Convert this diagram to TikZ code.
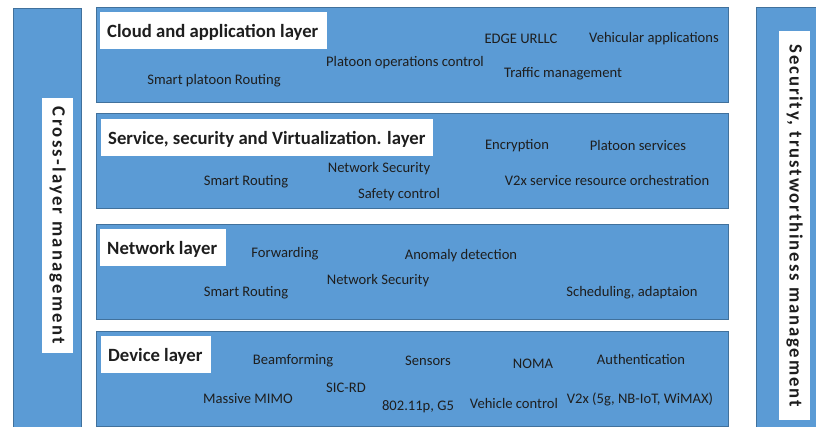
\documentclass[tikz,border=0pt]{standalone}
\usepackage{fontspec}
\setmainfont{Carlito}
\usepackage{tikz}
\usetikzlibrary{positioning,calc}
\definecolor{layerB}{HTML}{5B9BD5}
\definecolor{layerE}{HTML}{41719C}
\definecolor{txt}{HTML}{1E1E1E}

\begin{document}
\begin{tikzpicture}[
  x=1pt,y=-1pt,
  every node/.style={align=center,text=txt},
  layer/.style={draw=layerE,fill=layerB,line width=0.8pt,inner sep=0pt},
  side/.style={draw=layerE,fill=layerB,line width=0.8pt,inner sep=0pt},
  titlebox/.style={fill=white,inner sep=0pt,anchor=west,minimum height=37pt},
  titletext/.style={font=\fontsize{18.7}{20}\selectfont\bfseries,inner sep=0pt,yshift=-1.5pt},
  sidetitle/.style={fill=white,rotate=-90,inner sep=0pt,minimum height=31pt},
  item/.style={font=\fontsize{14.6}{16}\selectfont,inner sep=0pt,yshift=-1.5pt}
]
\useasboundingbox (0,0) rectangle (816,426);

% Side columns
\node[side,minimum width=68pt,minimum height=422pt] (crossbar) at (47,219) {};
\node[sidetitle,minimum width=255pt,
  font=\fontsize{18.7}{20}\selectfont\bfseries\addfontfeatures{LetterSpace=12}]
  (crosslab) at (57.5,225.5) {Cross-layer management};
\node[side,minimum width=64pt,minimum height=423pt] (securebar) at (788,218.5) {};
\node[sidetitle,minimum width=389pt,
  font=\fontsize{18.7}{20}\selectfont\bfseries\addfontfeatures{LetterSpace=10}]
  (securelab) at (794.5,225.5) {Security, trustworthiness management};

% Layers
\node[layer,minimum width=632pt,minimum height=95pt] (cloud) at (412,54.5) {};
\node[layer,minimum width=632pt,minimum height=95pt] (service) at (412,160.5) {};
\node[layer,minimum width=632pt,minimum height=95pt] (network) at (412,271.5) {};
\node[layer,minimum width=632pt,minimum height=95pt] (device) at (412,378.5) {};

% Layer titles
\node[titlebox,minimum width=227pt] (cloudT) at (100,30.5) {};
\node[titletext,anchor=west,right=7pt of cloudT.west] (cloudL) {Cloud and application layer};
\node[titlebox,minimum width=332pt] (serviceT) at (101,137.5) {};
\node[titletext,anchor=west,right=7pt of serviceT.west] (serviceL) {Service, security and Virtualization. layer};
\node[titlebox,minimum width=126pt] (networkT) at (100,247.5) {};
\node[titletext,anchor=west,right=7pt of networkT.west] (networkL) {Network layer};
\node[titlebox,minimum width=110pt] (deviceT) at (101,354.5) {};
\node[titletext,anchor=west,right=7pt of deviceT.west] (deviceL) {Device layer};

% Cloud and application layer
\node[item] (cSmart) at (214,79) {Smart platoon Routing};
\node[item] (cPlatoon) at (405,61) {Platoon operations control};
\node[item] (cEdge) at (521,37) {EDGE URLLC};
\node[item] (cVehic) at (654,37) {Vehicular applications};
\node[item] (cTraffic) at (563,72) {Traffic management};

% Service, security and virtualization layer
\node[item] (sSmart) at (246,180) {Smart Routing};
\node[item] (sNetSec) at (379,167) {Network Security};
\node[item] (sSafety) at (399,193) {Safety control};
\node[item] (sEncr) at (517,144) {Encryption};
\node[item] (sPlatoon) at (638,144) {Platoon services};
\node[item] (sV2x) at (607,179) {V2x service resource orchestration};

% Network layer
\node[item] (nForward) at (285,252) {Forwarding};
\node[item] (nAnomaly) at (461,254) {Anomaly detection};
\node[item] (nNetSec) at (378,279) {Network Security};
\node[item] (nSmart) at (246,291) {Smart Routing};
\node[item] (nSched) at (632,291) {Scheduling, adaptaion};

% Device layer
\node[item] (dBeam) at (293,359) {Beamforming};
\node[item] (dSensors) at (428,359) {Sensors};
\node[item] (dNoma) at (533,362) {NOMA};
\node[item] (dAuth) at (641,358) {Authentication};
\node[item] (dMimo) at (248,397) {Massive MIMO};
\node[item] (dSic) at (346,386) {SIC-RD};
\node[item] (dWifi) at (418,405) {802.11p, G5};
\node[item] (dVehic) at (514,402) {Vehicle control};
\node[item] (dV2x) at (640,398) {V2x (5g, NB-IoT, WiMAX)};
\end{tikzpicture}
\end{document}
